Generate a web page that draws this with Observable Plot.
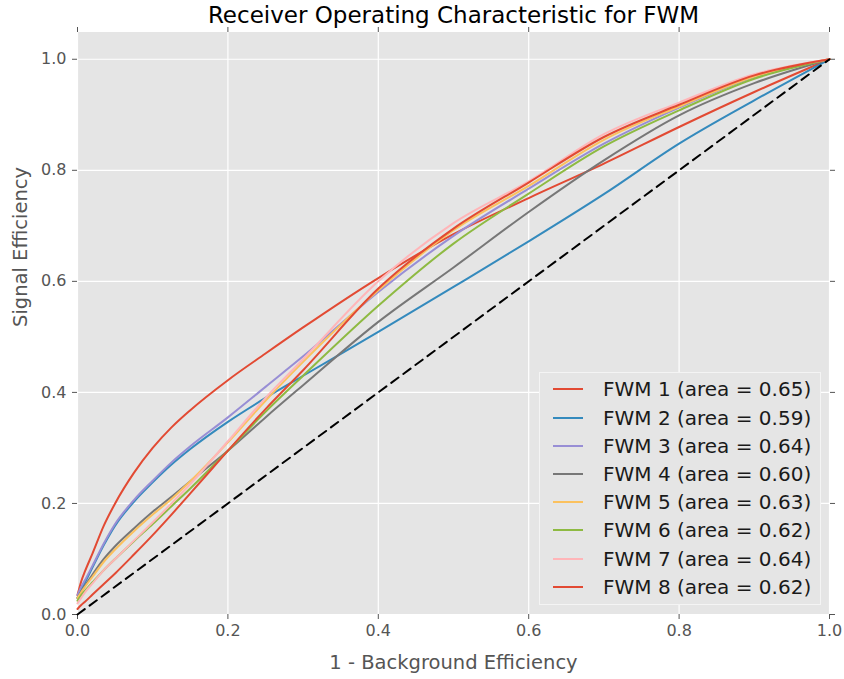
<!DOCTYPE html>
<html><head><meta charset="utf-8">
<script src="https://cdn.jsdelivr.net/npm/d3@7"></script>
<script src="https://cdn.jsdelivr.net/npm/@observablehq/plot@0.6"></script>
<style>
body{margin:0;background:#fff;}
#wrap{position:relative;width:844px;height:679px;font-family:"DejaVu Sans",sans-serif;}
#legend{position:absolute;left:539px;top:372px;width:282px;height:233px;background:#E5E5E5;border:1px solid #F4F4F4;box-sizing:border-box;}
.row{position:absolute;left:0;height:28px;width:100%;}
.sw{position:absolute;left:13px;top:13px;width:30px;height:2px;}
.lab{position:absolute;left:63px;top:0;font-size:20px;line-height:28px;color:#1a1a1a;white-space:nowrap;}
</style></head><body><div id="wrap"></div>
<script>
// false positive rate (1 - background efficiency)
const fpr     = [0, 0.005, 0.01, 0.02, 0.035, 0.05, 0.075, 0.1, 0.125, 0.15, 0.2, 0.25, 0.3, 0.4, 0.5, 0.6, 0.7, 0.8, 0.9, 1];
// signal efficiency per classifier
const tprFWM1 = [0.035, 0.06, 0.078, 0.11, 0.16, 0.2, 0.255, 0.3, 0.337, 0.368, 0.422, 0.47, 0.517, 0.606, 0.685, 0.75, 0.812, 0.878, 0.941, 1];
const tprFWM2 = [0.03, 0.045, 0.058, 0.085, 0.125, 0.16, 0.203, 0.238, 0.27, 0.298, 0.347, 0.39, 0.43, 0.509, 0.59, 0.672, 0.757, 0.848, 0.926, 1];
const tprFWM3 = [0.035, 0.05, 0.062, 0.088, 0.128, 0.163, 0.206, 0.241, 0.274, 0.303, 0.355, 0.41, 0.465, 0.581, 0.682, 0.767, 0.848, 0.913, 0.968, 1];
const tprFWM4 = [0.03, 0.042, 0.052, 0.072, 0.1, 0.123, 0.155, 0.185, 0.212, 0.24, 0.295, 0.355, 0.413, 0.527, 0.625, 0.725, 0.818, 0.899, 0.957, 1];
const tprFWM5 = [0.03, 0.04, 0.05, 0.068, 0.095, 0.117, 0.15, 0.18, 0.208, 0.24, 0.31, 0.385, 0.455, 0.584, 0.692, 0.772, 0.855, 0.915, 0.969, 1];
const tprFWM6 = [0.025, 0.035, 0.043, 0.058, 0.08, 0.1, 0.132, 0.163, 0.195, 0.227, 0.295, 0.365, 0.43, 0.556, 0.668, 0.758, 0.843, 0.908, 0.965, 1];
const tprFWM7 = [0.02, 0.03, 0.04, 0.056, 0.08, 0.1, 0.133, 0.166, 0.2, 0.235, 0.312, 0.39, 0.46, 0.6, 0.705, 0.78, 0.865, 0.922, 0.973, 1];
const tprFWM8 = [0.01, 0.017, 0.023, 0.036, 0.055, 0.074, 0.108, 0.143, 0.18, 0.218, 0.295, 0.37, 0.44, 0.587, 0.695, 0.778, 0.86, 0.918, 0.971, 1];
const seriesNames = ["FWM 1", "FWM 2", "FWM 3", "FWM 4", "FWM 5", "FWM 6", "FWM 7", "FWM 8"];
const areas = ["0.65", "0.59", "0.64", "0.60", "0.63", "0.62", "0.64", "0.62"];
const colors = ["#E24A33", "#348ABD", "#988ED5", "#777777", "#FBC15E", "#8EBA42", "#FFB5B8", "#E24A33"];
const diagonal = [0, 1];
const xTicks = [0, 0.2, 0.4, 0.6, 0.8, 1.0];
const yTicks = [0, 0.2, 0.4, 0.6, 0.8, 1.0];

const tprs = [tprFWM1, tprFWM2, tprFWM3, tprFWM4, tprFWM5, tprFWM6, tprFWM7, tprFWM8];
const rows = [];
tprs.forEach((t, i) => fpr.forEach((f, j) => rows.push({name: seriesNames[i], fpr: f, tpr: t[j]})));
const diagRows = diagonal.map(d => ({x: d, y: d}));

const fmt = d3.format(".1f");
const tickStyle = {stroke: "#555555", fill: "#555555", fontSize: 16, tickSize: 5};

const chart = Plot.plot({
  width: 844, height: 679,
  marginLeft: 77, marginRight: 15, marginTop: 31, marginBottom: 65,
  style: {fontFamily: "DejaVu Sans, sans-serif", background: "white", overflow: "visible"},
  x: {domain: [0, 1]},
  y: {domain: [0, 1.05]},
  color: {domain: seriesNames, range: colors},
  marks: [
    Plot.frame({fill: "#E5E5E5", stroke: "white"}),
    Plot.gridX(xTicks, {stroke: "white", strokeOpacity: 1, strokeWidth: 1.2}),
    Plot.gridY(yTicks, {stroke: "white", strokeOpacity: 1, strokeWidth: 1.2}),
    Plot.axisX(xTicks, {...tickStyle, anchor: "bottom", tickPadding: 5, tickFormat: fmt, label: null}),
    Plot.axisX(xTicks, {...tickStyle, anchor: "top", tickFormat: () => "", label: null}),
    Plot.axisY(yTicks, {...tickStyle, anchor: "left", tickPadding: 6, tickFormat: fmt, label: null}),
    Plot.axisY(yTicks, {...tickStyle, anchor: "right", tickFormat: () => "", label: null}),
    Plot.line(rows, {x: "fpr", y: "tpr", z: "name", stroke: "name", strokeWidth: 2, curve: "monotone-x"}),
    Plot.line(diagRows, {x: "x", y: "y", stroke: "black", strokeWidth: 2, strokeDasharray: "9,6"}),
    Plot.text(["Receiver Operating Characteristic for FWM"], {frameAnchor: "top", dy: -16, fontSize: 23, fill: "black", lineAnchor: "middle"}),
    Plot.text(["1 - Background Efficiency"], {frameAnchor: "bottom", dy: 48, fontSize: 19.5, fill: "#555555", lineAnchor: "middle"}),
    Plot.text(["Signal Efficiency"], {frameAnchor: "left", dx: -57, dy: 4, rotate: -90, fontSize: 19.5, fill: "#555555", lineAnchor: "middle"})
  ]
});
const wrap = document.getElementById("wrap");
wrap.appendChild(chart);

const legend = document.createElement("div");
legend.id = "legend";
seriesNames.forEach((n, i) => {
  const r = document.createElement("div");
  r.className = "row";
  r.style.top = (2.3 + 28.2 * i) + "px";
  const sw = document.createElement("div");
  sw.className = "sw";
  sw.style.background = colors[i];
  const lab = document.createElement("div");
  lab.className = "lab";
  lab.textContent = `${n} (area = ${areas[i]})`;
  r.appendChild(sw); r.appendChild(lab);
  legend.appendChild(r);
});
wrap.appendChild(legend);
</script></body></html>
